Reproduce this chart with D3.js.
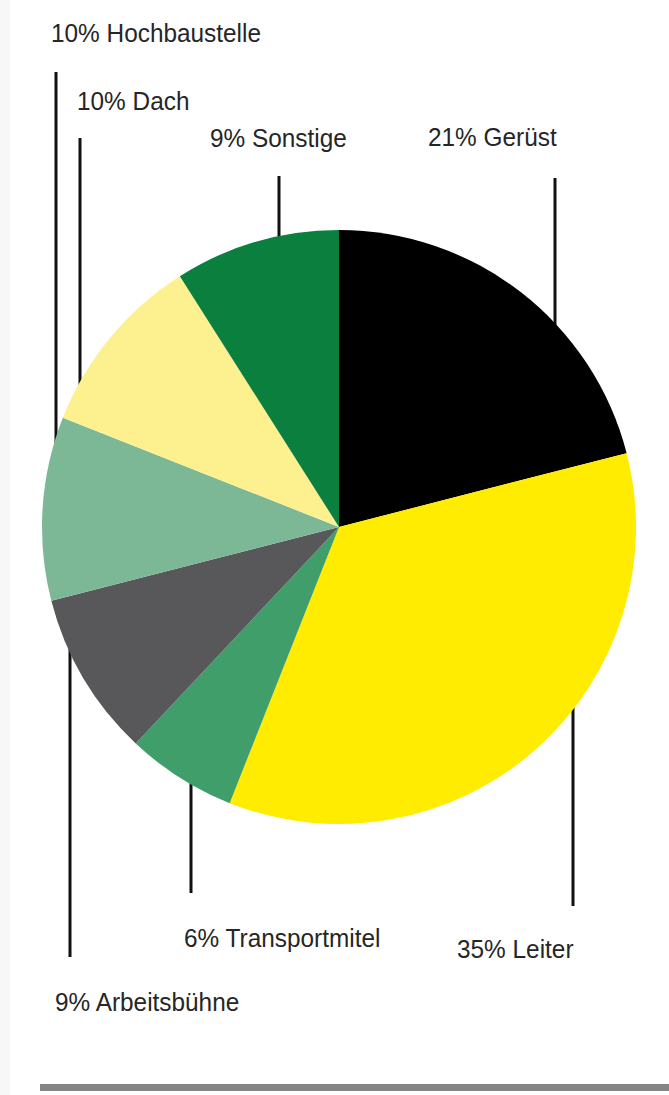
<!DOCTYPE html>
<html>
<head>
<meta charset="utf-8">
<script src="https://cdn.jsdelivr.net/npm/d3@7/dist/d3.min.js"></script>
<style>
  html, body { margin: 0; padding: 0; background: #fff; }
  svg { display: block; }
</style>
</head>
<body>
<svg id="chart" width="669" height="1095"></svg>
<script>
// ---- data ----
const categories = ["Gerüst", "Leiter", "Transportmitel", "Arbeitsbühne", "Hochbaustelle", "Dach", "Sonstige"];
const values = [21, 35, 6, 9, 10, 10, 9];
const colors = ["#000000", "#ffec00", "#3f9e6a", "#58585a", "#7db896", "#fdf08f", "#0b7f3e"];

// ---- label layout (x of text, text baseline, x of leader line, free end of leader line) ----
const labelX     = [428, 457, 184, 55, 51, 77, 210];
const labelY     = [146, 958, 947, 1011, 42, 110, 147];
const leaderX    = [555, 573, 191, 70, 56, 80, 279];
const leaderEndY = [178, 906, 893, 957, 72, 138, 176];

const W = 669, H = 1095;
const cx = 339, cy = 527, R = 297;

const svg = d3.select("#chart");

// faint paper strip at the left edge
svg.append("rect").attr("x", 0).attr("y", 0).attr("width", 10).attr("height", H).attr("fill", "#f7f7f7");

const data = categories.map((c, i) => ({ name: c, value: values[i], color: colors[i], i }));

const pie = d3.pie().value(d => d.value).sort(null).startAngle(0).endAngle(2 * Math.PI);
const arcs = pie(data);
const arc = d3.arc().innerRadius(0).outerRadius(R);

// leader lines (drawn behind the pie, running into its edge)
const lines = svg.append("g");
data.forEach((d, i) => {
  const x = leaderX[i];
  const dx = x - cx;
  const dy = Math.sqrt(Math.max(0, R * R - dx * dx));
  const top = leaderEndY[i] < cy;
  const edgeY = top ? cy - dy + 6 : cy + dy - 6;
  lines.append("line")
    .attr("x1", x).attr("x2", x)
    .attr("y1", leaderEndY[i]).attr("y2", edgeY)
    .attr("stroke", "#111").attr("stroke-width", 3);
});

// pie
const g = svg.append("g").attr("transform", `translate(${cx},${cy})`);
g.selectAll("path")
  .data(arcs)
  .enter().append("path")
  .attr("d", arc)
  .attr("fill", d => d.data.color);

// labels
const labels = svg.append("g");
data.forEach((d, i) => {
  labels.append("text")
    .attr("transform", `translate(${labelX[i]},${labelY[i]}) scale(0.92,1)`)
    .attr("font-family", "'Liberation Sans', Arial, sans-serif")
    .attr("font-size", 26.5)
    .attr("fill", "#262626")
    .text(`${d.value}% ${d.name}`);
});

// bottom rule
svg.append("rect").attr("x", 40).attr("y", 1084).attr("width", W - 40).attr("height", 7).attr("fill", "#858585");
</script>
</body>
</html>
